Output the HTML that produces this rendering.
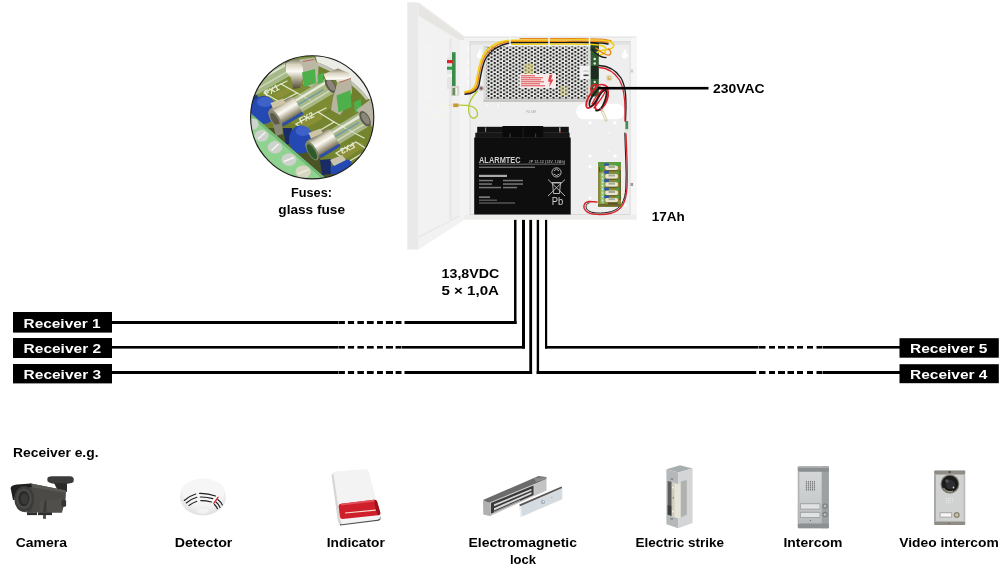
<!DOCTYPE html>
<html><head><meta charset="utf-8"><title>Power supply diagram</title>
<style>
html,body{margin:0;padding:0;background:#fff;}
body{width:1000px;height:572px;overflow:hidden;font-family:"Liberation Sans",sans-serif;}
svg{display:block;will-change:transform;}

text{font-family:"Liberation Sans",sans-serif;font-weight:bold;}
</style></head><body>
<svg width="1000" height="572" viewBox="0 0 1000 572">
<defs>
<pattern id="mesh" x="486.95" y="47.28" width="6.2" height="3.67" patternUnits="userSpaceOnUse">
  <rect width="6.2" height="3.67" fill="#e9e9e7"/>
  <circle cx="1.55" cy="0.92" r="1.12" fill="#161616"/>
  <circle cx="4.65" cy="2.755" r="1.12" fill="#161616"/>
</pattern>
<clipPath id="fclip"><circle cx="312.200" cy="117.300" r="61.600"/></clipPath>
<linearGradient id="metal" x1="0" y1="0" x2="0" y2="1">
  <stop offset="0" stop-color="#7d7864"/><stop offset=".2" stop-color="#d9d4c0"/><stop offset=".42" stop-color="#fbfaf4"/><stop offset=".62" stop-color="#c2bca6"/><stop offset=".85" stop-color="#7a745e"/><stop offset="1" stop-color="#4f4a38"/>
</linearGradient>
<linearGradient id="glass" x1="0" y1="0" x2="0" y2="1">
  <stop offset="0" stop-color="#7f8c70"/><stop offset=".3" stop-color="#cfd8c8"/><stop offset=".6" stop-color="#aebba2"/><stop offset="1" stop-color="#6f7d58"/>
</linearGradient>
<radialGradient id="detg" cx=".5" cy=".35" r=".65">
  <stop offset="0" stop-color="#fbfbfb"/><stop offset=".7" stop-color="#f1f1f1"/><stop offset="1" stop-color="#dedede"/>
</radialGradient>
<linearGradient id="icg" x1="0" y1="0" x2="0" y2="1"><stop offset="0" stop-color="#d6d8d9"/><stop offset=".55" stop-color="#c9cccd"/><stop offset="1" stop-color="#b4b7b9"/></linearGradient>
<!--DEFS-->
</defs>
<rect width="1000" height="572" fill="#fff"/>

<!-- ============ WIRES ============ -->
<g id="wires" fill="#000">
  <!-- vertical drops -->
  <rect x="514" y="219.5" width="2.5" height="104.5"/>
  <rect x="522" y="219.5" width="3" height="129"/>
  <rect x="529.3" y="219.5" width="2.8" height="154.5"/>
  <rect x="536.7" y="219.5" width="2.4" height="154.5"/>
  <rect x="545" y="219.5" width="2.2" height="129"/>
  <!-- left horizontals -->
  <rect x="112" y="321" width="226.5" height="3"/>
  <rect x="404.5" y="321" width="112" height="3"/>
  <rect x="112" y="346" width="226.5" height="2.6"/>
  <rect x="402" y="346" width="123" height="2.6"/>
  <rect x="112" y="371" width="226.5" height="3"/>
  <rect x="404.5" y="371" width="127.6" height="3"/>
  <!-- right horizontals -->
  <rect x="545" y="346" width="213.5" height="2.6"/>
  <rect x="823" y="346" width="77" height="2.6"/>
  <rect x="536.7" y="371" width="219.5" height="3"/>
  <rect x="823" y="371" width="77" height="3"/>
</g>
<!-- dashes -->
<g id="dashes" fill="#000">
<rect x="338.8" y="321" width="6.1" height="3"/>
<rect x="347.9" y="321" width="6.2" height="3"/>
<rect x="357.4" y="321" width="6.5" height="3"/>
<rect x="366.9" y="321" width="6.8" height="3"/>
<rect x="377" y="321" width="5.9" height="3"/>
<rect x="385.9" y="321" width="7.1" height="3"/>
<rect x="395.6" y="321" width="5.9" height="3"/>
<rect x="338.8" y="346" width="6.1" height="2.6"/>
<rect x="347.9" y="346" width="6.2" height="2.6"/>
<rect x="357.4" y="346" width="6.5" height="2.6"/>
<rect x="366.9" y="346" width="6.8" height="2.6"/>
<rect x="377" y="346" width="5.9" height="2.6"/>
<rect x="385.9" y="346" width="7.1" height="2.6"/>
<rect x="395.6" y="346" width="5.9" height="2.6"/>
<rect x="338.8" y="371" width="6.1" height="3"/>
<rect x="347.9" y="371" width="6.2" height="3"/>
<rect x="357.4" y="371" width="6.5" height="3"/>
<rect x="366.9" y="371" width="6.8" height="3"/>
<rect x="377" y="371" width="5.9" height="3"/>
<rect x="385.9" y="371" width="7.1" height="3"/>
<rect x="395.6" y="371" width="5.9" height="3"/>
<rect x="759" y="346" width="6.5" height="2.6"/>
<rect x="769" y="346" width="6.0" height="2.6"/>
<rect x="778" y="346" width="7.0" height="2.6"/>
<rect x="787.5" y="346" width="6.5" height="2.6"/>
<rect x="797" y="346" width="6.0" height="2.6"/>
<rect x="807" y="346" width="6.0" height="2.6"/>
<rect x="816.5" y="346" width="6.0" height="2.6"/>
<rect x="759" y="371" width="6.5" height="3"/>
<rect x="769" y="371" width="6.0" height="3"/>
<rect x="778" y="371" width="7.0" height="3"/>
<rect x="787.5" y="371" width="6.5" height="3"/>
<rect x="797" y="371" width="6.0" height="3"/>
<rect x="807" y="371" width="6.0" height="3"/>
<rect x="816.5" y="371" width="6.0" height="3"/>
</g>

<!-- ============ LABEL BOXES ============ -->
<g id="labels">
  <rect x="13" y="312" width="99" height="20.6" fill="#000"/>
  <rect x="13" y="338" width="99" height="20" fill="#000"/>
  <rect x="13" y="364" width="99" height="19.4" fill="#000"/>
  <rect x="899.5" y="338.2" width="99.3" height="19.5" fill="#000"/>
  <rect x="899.5" y="364.2" width="99.3" height="19" fill="#000"/>
  <g fill="#fff" font-size="13">
    <text x="23.6" y="327.6" textLength="77" lengthAdjust="spacingAndGlyphs">Receiver 1</text>
    <text x="23.6" y="353.4" textLength="77.5" lengthAdjust="spacingAndGlyphs">Receiver 2</text>
    <text x="23.6" y="378.9" textLength="77.5" lengthAdjust="spacingAndGlyphs">Receiver 3</text>
    <text x="910" y="353.4" textLength="77.5" lengthAdjust="spacingAndGlyphs">Receiver 5</text>
    <text x="910" y="378.6" textLength="77.5" lengthAdjust="spacingAndGlyphs">Receiver 4</text>
  </g>
</g>

<!-- ============ TEXT ============ -->
<g id="texts" fill="#000" font-size="13">
  <text x="713" y="93.3" textLength="51.5" lengthAdjust="spacingAndGlyphs">230VAC</text>
  <text x="651.7" y="221" textLength="33" lengthAdjust="spacingAndGlyphs">17Ah</text>
  <text x="441.6" y="278.2" textLength="57.6" lengthAdjust="spacingAndGlyphs">13,8VDC</text>
  <text x="441.4" y="294.6" textLength="57.6" lengthAdjust="spacingAndGlyphs">5 × 1,0A</text>
  <text x="291" y="196.8" font-size="12.4" textLength="41" lengthAdjust="spacingAndGlyphs">Fuses:</text>
  <text x="278.3" y="213.8" font-size="12.4" textLength="66.7" lengthAdjust="spacingAndGlyphs">glass fuse</text>
  <text x="13" y="456.8" font-size="12.2" textLength="85.5" lengthAdjust="spacingAndGlyphs" style="font-weight:bold">Receiver e.g.</text>
  <g font-size="12.6">
  <text x="15.7" y="546.6" textLength="51.3" lengthAdjust="spacingAndGlyphs">Camera</text>
  <text x="174.7" y="546.7" textLength="57.7" lengthAdjust="spacingAndGlyphs">Detector</text>
  <text x="326.8" y="546.7" textLength="58" lengthAdjust="spacingAndGlyphs">Indicator</text>
  <text x="468.5" y="547" textLength="108.5" lengthAdjust="spacingAndGlyphs">Electromagnetic</text>
  <text x="510" y="564" textLength="26.1" lengthAdjust="spacingAndGlyphs">lock</text>
  <text x="635.6" y="547" textLength="88.4" lengthAdjust="spacingAndGlyphs">Electric strike</text>
  <text x="783.5" y="546.6" textLength="58.8" lengthAdjust="spacingAndGlyphs">Intercom</text>
  <text x="899.2" y="546.6" textLength="99.6" lengthAdjust="spacingAndGlyphs">Video intercom</text>
  </g>
</g>

<!-- ============ CABINET ============ -->
<g id="cabinet">
  <!-- door -->
  <polygon points="407.3,2.3 418.5,2.5 418.5,249.5 407.3,249.5" fill="#e9e9e9"/>
  <polygon points="418.5,2.5 464.5,36.5 464.5,219.5 418.5,249.5" fill="#f0f0f0"/>
  <!-- door top rim -->
  <polygon points="418.5,2.5 464.5,36.5 464.5,43 418.5,15.5" fill="#e6e5e2"/>
  <polygon points="418.5,2.5 464.5,36.5 464.5,38 418.5,4.5" fill="#ecebe8"/>
  <!-- door bottom rim -->
  <polygon points="418.5,249.5 464.5,219.5 464.5,214 418.5,238" fill="#f2f2f2"/>
  <polygon points="418.5,238 464.5,214 464.5,212.5 418.5,236" fill="#e7e7e7"/>
  <!-- door inner panel -->
  <polygon points="418.5,15.5 449,36 449,221 418.5,236" fill="#f2f2f2"/>
  <rect x="419.5" y="44" width="12.5" height="57" fill="#f3f3f3"/>
  <rect x="449" y="38" width="3" height="181" fill="#e9e9e9"/>
  <rect x="460" y="40" width="4.5" height="178" fill="#f4f4f4"/>
  <!-- led board on door -->
  <rect x="447" y="57" width="5.200" height="32" fill="#e4e4e2"/>
  <rect x="452" y="52.200" width="3.600" height="43.500" fill="#3c8a4a"/>
  <rect x="447" y="60" width="5.800" height="3.200" fill="#d8242c"/>
  <rect x="447" y="66.700" width="5.800" height="3" fill="#2f9a4a"/>
  <rect x="447" y="74" width="5" height="3" fill="#f2f2f0"/>
  <rect x="451" y="86" width="8.200" height="9.700" fill="#d4d4cc"/>
  <rect x="452.500" y="88" width="2.500" height="7" fill="#6b8a5a"/>
  <rect x="456" y="88" width="1.200" height="7" fill="#f4f4f0"/>
  <!-- cabinet body -->
  <rect x="464.5" y="36.6" width="172" height="182.9" fill="#f3f3f3"/>
  <rect x="470" y="42" width="160" height="172.5" fill="#eeeeee"/>
  <rect x="464.5" y="36.6" width="172" height="1" fill="#e2e2e2"/>
  <rect x="470" y="42" width="160" height="3" fill="#e4e3df"/><rect x="469.5" y="41" width="161" height="1.2" fill="#dcdcdc"/>
  <rect x="469.5" y="41" width="1.2" height="174" fill="#dedede"/>
  <rect x="629.6" y="41" width="1.2" height="174" fill="#dddddd"/>
  <rect x="630.8" y="37.6" width="5.8" height="181.9" fill="#f6f6f6"/>
  <rect x="464.5" y="214.5" width="172" height="5" fill="#ededeb"/>
  <rect x="470" y="214" width="160" height="1" fill="#d9d9d9"/>
  <!-- slots on left wall -->
  <g fill="#fafafa">
    <rect x="467" y="47" width="1.6" height="6"/><rect x="467" y="58" width="1.6" height="6"/><rect x="467" y="69" width="1.6" height="6"/><rect x="467" y="80" width="1.6" height="6"/>
  </g>
  <!-- keyholes -->
  <g fill="#ffffff">
    <circle cx="480" cy="55.5" r="3"/><rect x="478.8" y="49.5" width="2.4" height="6" rx="1.2"/>
    <circle cx="624.8" cy="55.5" r="3"/><rect x="623.6" y="49.5" width="2.4" height="6" rx="1.2"/>
    <rect x="576" y="103.8" width="48.5" height="15.4" rx="7.7"/>
    <circle cx="590" cy="122.8" r="1.7"/><circle cx="615" cy="122.8" r="1.7"/>
    <circle cx="590" cy="156" r="1.7"/><circle cx="615" cy="156" r="1.7"/>
    <circle cx="590" cy="166.7" r="1.7"/><circle cx="590" cy="198" r="1.5"/><circle cx="625.5" cy="205" r="1.5"/>
    <circle cx="609" cy="133" r="0.8"/><circle cx="609" cy="151" r="0.8"/>
    <circle cx="487" cy="105.5" r="0.9"/><circle cx="498" cy="105.5" r="0.9"/>
  </g>
  <rect x="630.5" y="69.5" width="2.6" height="3" fill="#cfcfcf"/>
  <rect x="630.5" y="183" width="2.6" height="3" fill="#9a9a9a"/>
  <text x="526" y="113" font-size="2.6" fill="#aaa" style="font-weight:normal">PULSAR</text>
  <!-- PSU -->
  <rect x="483.5" y="44.5" width="107" height="57.5" fill="#d9d9d7"/>
  <rect x="483.5" y="44.5" width="107" height="1.2" fill="#f4f4f4"/>
  <rect x="483.5" y="99.5" width="107" height="2.5" fill="#c6c6c4"/>
  <rect x="486" y="46.5" width="101.5" height="52.5" fill="url(#mesh)"/>
  <rect x="524.5" y="63.5" width="9" height="11" fill="#d8cf6a" opacity=".55"/>
  <rect x="560" y="86" width="8" height="10" fill="#d8cf6a" opacity=".35"/>
  <!-- PSU sticker -->
  <rect x="519.5" y="74" width="36.5" height="14" fill="#f6ecec"/>
  <g fill="#e0494f">
    <rect x="521" y="75.3" width="14" height="1"/><rect x="521" y="77.3" width="22" height="1"/><rect x="521" y="79.3" width="20" height="1"/>
    <rect x="521" y="81.3" width="23" height="1"/><rect x="521" y="83.3" width="19" height="1"/><rect x="521" y="85.3" width="24" height="1"/>
    <polygon points="549.5,74.8 552.5,74.8 551,79.5 553.5,79.5 549,87.2 550,81.8 548,81.8"/>
  </g>
  <!-- white connector on PSU -->
  <rect x="580" y="65.8" width="9.6" height="13.2" fill="#f1f1f1"/>
  <rect x="583.5" y="74.5" width="5" height="1.6" fill="#444"/>
  <rect x="583.5" y="70.5" width="5" height="1" fill="#bbb"/>
  <!-- green terminal PCB -->
  <rect x="590.6" y="43" width="8.2" height="53.5" fill="#2f5b33"/>
  <rect x="590.6" y="43" width="8.2" height="8" fill="#243f26"/>
  <g fill="#d9e6d5"><circle cx="594.7" cy="59" r="1.3"/><circle cx="594.7" cy="63.5" r="1.3"/><circle cx="594.7" cy="82" r="1.2"/><circle cx="594.7" cy="87.5" r="1.2"/></g>
  <rect x="591" y="66" width="7.5" height="13" fill="#1f2a20"/>
  <circle cx="481.200" cy="88.300" r="2.600" fill="#b9b9b5"/><circle cx="481.200" cy="88.300" r="1.300" fill="#8a5a50"/>
  <!-- ground screw -->
  <circle cx="609.3" cy="78" r="3.4" fill="#e4e0c6"/><circle cx="609.3" cy="78" r="2" fill="#caa85a"/><circle cx="609.7" cy="77.6" r="1" fill="#f1e9c8"/>
  <!-- top wire bundle -->
  <g fill="none" stroke-linecap="round" stroke-linejoin="round">
    <path d="M465,91.6 C471,91.4 474.5,89 476,83 C477.5,75 478.5,67 481.5,59 C485.5,49 495,41.8 509,40.4 L560,40 C580,39.6 596,39.2 606,40.6 C613,41.6 616,45.6 612,48.1 C607,50.6 600,49.6 597,52.6" stroke="#f0d21a" stroke-width="1.6"/>
    <path d="M465,92.9 C472,92.7 476,90.3 477.5,84 C479,76 480,68 483,60 C487,50.5 496.5,43.2 510,41.6 L566,41.4 C585,41.2 600,40.6 608,42.6" stroke="#e8871e" stroke-width="1.5"/>
    <path d="M465,94.2 C473,94 477.5,91.6 479,85 C480.5,77 481.5,69 484.5,61 C488.5,52 498,44.6 511,42.8 L566,42.6 C585,42.4 600,42 608,44" stroke="#1c1c1c" stroke-width="1.4"/>
    <path d="M512,44.2 L572,44 C586,44 597,44 603,46 C608,48 606,54 600,55" stroke="#f0d21a" stroke-width="1.6"/>
    <path d="M520,38.6 L566,38.6 C590,38.2 604,38.2 611,40.6" stroke="#e8871e" stroke-width="1.2"/>
    <path d="M596,48 C601,52 606,56 609,55 C612,54 611,50 608,49" stroke="#e8871e" stroke-width="1.4"/>
    <path d="M592,49 C596,55 602,58 606,57.500" stroke="#1c1c1c" stroke-width="1.3"/>
    <!-- cable ties -->
    <path d="M510,38 L510,46 M549,38 L549,46 M589.500,37.500 L589.500,46" stroke="#f7f7f7" stroke-width="1.5"/>
    <!-- ground wire green/yellow -->
    <path d="M477.5,91 C474,95 471,99 469.5,103 C467.5,109 468.5,116 472.5,118 C476.5,119 478.5,115 477,111 C475.5,107.5 471,105.8 467,105.4 L458.5,105.2" stroke="#b2c834" stroke-width="1.3"/>
    <path d="M453,105.300 L458.400,105.300" stroke="#c9973a" stroke-width="3.6" stroke-linecap="butt"/>
    <path d="M444.500,105 L449,105" stroke="#f7f5ea" stroke-width="3.4" stroke-linecap="butt"/>
    <path d="M449,105.200 L453,105.200" stroke="#e9e2c4" stroke-width="1.2"/>
    <ellipse cx="436.200" cy="111.300" rx="8.200" ry="6" stroke="#f6f4e8" stroke-width="1.100"/>
    <!-- right red/black wires -->
    <path d="M599,65.500 C608,66 616,70 621,78 C626,87 626,98 626,108 L625.500,121" stroke="#1c1c1c" stroke-width="1.300"/>
    <path d="M599,67.500 C607,68 614.500,72 619.500,80 C624.500,89 625,100 625,110 L625,121" stroke="#d8222a" stroke-width="1.300"/>
    <path d="M626,133 C626.500,150 628,170 627,188 C626,202 622,210 612,213 C602,215.500 590,215 586,211 C582,207 584,202 589,201.500 L597,202" stroke="#d8222a" stroke-width="1.300"/>
    <path d="M624.800,133 C625,150 626.800,170 625.800,188 C625,201 621,208.500 611.500,211.500 C602,214 591,213.500 587.500,210 C585,207 586,203.500 589,203" stroke="#1c1c1c" stroke-width="1"/>
    <!-- coil -->
    <path d="M597,86 C591,92 585,101 586.5,106.5 C588,110 592.5,107 596,101 C600,94 602,88 605,88 C608.5,88 609,94 607,100 C605,106 600,111 597,110 C593.5,108.500 596,101 599.500,95 C602.500,89.500 606,88.500 607,92 C608,97 604,105 601,110" stroke="#d8222a" stroke-width="1.9"/>
    <path d="M600,87 C594,93 588.500,101 589.500,105.500 C590.500,108.500 594.500,104 597.500,99 C600.500,93 603,89.500 605.500,90.500 C607.500,92 606,99 603,105 C601,109 598,111.500 596,110.500" stroke="#1c1c1c" stroke-width="1.6"/>
    <path d="M592,104 C595,98 599,92 603,90 M594,108 C598,103 603,97 605,92" stroke="#d8222a" stroke-width="1.300"/>
    <path d="M596,84.500 C592,84 589.500,88 591.500,91.500 M597,86 C600,83.500 606.500,84.500 608.500,88.500" stroke="#d8222a" stroke-width="1.500"/>
    <path d="M600.500,108 L603.500,113" stroke="#999" stroke-width="1"/>
    <path d="M602.300,111 L606,120" stroke="#d9cfb4" stroke-width="3.200"/>
    <path d="M602.800,112.500 L605.500,119" stroke="#f4efe0" stroke-width="1.600"/>
  </g>
  <rect x="625.400" y="121" width="2.800" height="9" fill="#4a8a58"/>
  <rect x="625.400" y="129" width="2.800" height="4.500" fill="#e4e2da"/>
  <!-- battery -->
  <rect x="477.2" y="126.8" width="91.6" height="7" fill="#121212"/>
  <rect x="475.3" y="132.7" width="94.3" height="6" fill="#171717"/>
  <rect x="474.2" y="137.6" width="96.5" height="76.9" fill="#0e0e0e"/>
  <rect x="502.5" y="126" width="40.7" height="12.5" fill="#0a0a0a"/>
  <rect x="477.2" y="132.2" width="25" height="0.9" fill="#2c2c2c"/><rect x="543.5" y="132.2" width="25" height="0.9" fill="#2c2c2c"/>
  <rect x="475.3" y="137.3" width="94.3" height="0.8" fill="#222"/>
  <rect x="485" y="127.5" width="1.1" height="4.3" fill="#8a8a8a"/><rect x="559.3" y="127.3" width="1.1" height="4" fill="#ccc"/><rect x="559" y="131.3" width="1.8" height="1.2" fill="#d05040"/>
  <rect x="522.6" y="127" width="0.8" height="11" fill="#262626"/>
  <rect x="509.5" y="133.5" width="1.2" height="4" fill="#3a3a3a"/><rect x="535" y="133.5" width="1.2" height="4" fill="#3a3a3a"/>
  <g fill="#cfcfcf">
    <text x="479" y="162.800" font-size="8.200" textLength="41.700" lengthAdjust="spacingAndGlyphs">ALARMTEC</text>
    <text x="528.600" y="162.600" font-size="3.600" textLength="36.500" lengthAdjust="spacingAndGlyphs" fill="#9a9a9a">JP 12-12  (12V, 12Ah)</text>
    <rect x="479" y="163.800" width="86" height="0.600" fill="#aaa"/>
    <rect x="479" y="166.600" width="56" height="1.300" fill="#777"/>
    <rect x="479" y="174.800" width="28" height="2.200" fill="#aaa"/>
    <rect x="479" y="179.800" width="14" height="1.500" fill="#777"/><rect x="503" y="179.800" width="20" height="1.500" fill="#777"/>
    <rect x="479" y="183.300" width="13" height="1.500" fill="#777"/><rect x="503" y="183.300" width="20" height="1.500" fill="#777"/>
    <rect x="479" y="186.800" width="22" height="1.500" fill="#777"/><rect x="503" y="186.800" width="14" height="1.500" fill="#777"/>
    <rect x="479" y="196.400" width="11" height="1.500" fill="#888"/>
    <rect x="479" y="199.600" width="18" height="1.200" fill="#666"/>
    <rect x="479" y="202.400" width="36" height="1.200" fill="#666"/>
    <text x="551.800" y="204.800" font-size="11" textLength="11.500" lengthAdjust="spacingAndGlyphs" style="font-weight:normal">Pb</text>
  </g>
  <!-- recycle + bin icons -->
  <g fill="none" stroke="#c4c4c4">
    <circle cx="556.500" cy="172.400" r="4.600" stroke-width="0.900"/>
    <path d="M554,171 L556.500,169 L559,171 M553.500,174 L556.500,175.500 L559.500,174" stroke-width="0.900"/>
    <path d="M548,179.500 L565,196 M565,179.500 L548,196" stroke-width="0.900"/>
    <path d="M552.500,183 L553.500,193.500 L559.500,193.500 L560.500,183 Z M551.500,182.500 L561.500,182.500" stroke-width="0.900"/>
  </g>
  <!-- fuse board -->
  <rect x="598" y="162" width="23" height="44.700" fill="#8a883c"/>
  <rect x="598" y="162" width="23" height="4" fill="#5f9a40"/>
  <rect x="598" y="204" width="23" height="2.700" fill="#6e6a2c"/>
  <g fill="#5a5522"><rect x="599" y="167" width="1.500" height="5"/><rect x="619.500" y="170" width="1.200" height="30"/><rect x="604.500" y="170.300" width="14" height="1"/><rect x="604.500" y="178.800" width="14" height="1"/><rect x="604.500" y="187.200" width="14" height="1"/><rect x="604.500" y="195.400" width="14" height="1"/><rect x="608" y="202.500" width="10" height="2"/></g>
  <rect x="600.600" y="172.500" width="3.800" height="31" fill="#8ecb7c"/>
  <g fill="#eef6ea"><circle cx="602.500" cy="175" r="0.700"/><circle cx="602.500" cy="178.600" r="0.700"/><circle cx="602.500" cy="182.200" r="0.700"/><circle cx="602.500" cy="185.800" r="0.700"/><circle cx="602.500" cy="189.400" r="0.700"/><circle cx="602.500" cy="193" r="0.700"/><circle cx="602.500" cy="196.600" r="0.700"/><circle cx="602.500" cy="200.200" r="0.700"/></g>
  <g>
    <rect x="605.300" y="165.600" width="12.600" height="4.300" rx="1.600" fill="#e9e5d2"/>
    <rect x="605.300" y="174.100" width="12.600" height="4.300" rx="1.600" fill="#e9e5d2"/>
    <rect x="605.300" y="182.200" width="12.600" height="4.300" rx="1.600" fill="#e9e5d2"/>
    <rect x="605.300" y="190.600" width="12.600" height="4.300" rx="1.600" fill="#e9e5d2"/>
    <rect x="605.300" y="198" width="12.600" height="4" rx="1.600" fill="#e9e5d2"/>
    <g fill="#a3ab94"><rect x="608.500" y="166" width="6.500" height="2"/><rect x="608.500" y="174.500" width="6.500" height="2"/><rect x="608.500" y="182.600" width="6.500" height="2"/><rect x="608.500" y="191" width="6.500" height="2"/><rect x="608.500" y="198.300" width="6.500" height="1.800"/></g>
    <g fill="#2a55b5"><rect x="604.200" y="163.300" width="4.600" height="2.400"/><rect x="604.200" y="171" width="4.600" height="2.600"/><rect x="604.200" y="179.300" width="4.600" height="2.600"/><rect x="604.200" y="187.700" width="4.600" height="2.600"/><rect x="604.200" y="195.600" width="4.600" height="2.400"/></g>
    <g fill="#3fa63f"><rect x="616" y="163.200" width="3" height="2.400"/><rect x="616.300" y="171.300" width="2.800" height="2.400"/><rect x="616.300" y="179.500" width="2.800" height="2.400"/><rect x="616.300" y="187.800" width="2.800" height="2.400"/><rect x="616.300" y="195.600" width="2.800" height="2.200"/><rect x="600" y="167" width="3" height="3.500"/></g>
  </g>
<rect x="598" y="86.9" width="110.5" height="2.6" fill="#000"/>
<!--CABINET_END-->
</g>

<!-- ============ FUSE CIRCLE ============ -->
<g id="fusecircle">
  <g clip-path="url(#fclip)">
    <rect x="248" y="54" width="130" height="128" fill="#6f7f2c"/>
    <!-- pcb patches -->
    <polygon points="250,100 300,72 350,96 300,128" fill="#7d8c33"/>
    <polygon points="300,128 350,100 376,118 376,150 340,172" fill="#74842f"/>
    <polygon points="250,60 318,56 300,72 258,96" fill="#7a9440"/>
    <polygon points="262,128 290,128 338,178 300,182 262,150" fill="#4a5424"/>
    <!-- pads -->
    <path d="M274,94 L288,88 Q292,88 291,92 L279,98 Q274,98 274,94Z" fill="#8b9036"/>
    <path d="M298,124 L318,114 Q324,114 322,119 L304,129 Q298,129 298,124Z" fill="#8b9036"/>
    <path d="M338,152 L358,142 Q366,142 363,148 L345,159 Q337,159 338,152Z" fill="#8b9036"/>
    <!-- white enclosure band top right -->
    <path d="M314,50 L380,50 L380,104 L368.600,99 Q352,76 317,62 Z" fill="#ecece6"/>
    <path d="M317,62 Q352,76 368.600,99 L366,100 Q350,79 316,65 Z" fill="#c2c2b6"/>
    <!-- silk screen -->
    <g fill="none" stroke="#dfe6c8" stroke-width="1.300" stroke-linecap="round">
      <path d="M264,93 L281,84 L297,93 L280,102 Z"/>
      <path d="M281,84 L287,81 M297,93 L310,100"/>
      <path d="M296,124 L318,112 L334,122 L312,135 Z"/>
      <path d="M318,112 L326,108 M334,122 L345,128"/>
      <path d="M336,153 L356,142 L368,150 L348,162 Z"/>
      <path d="M345,128 L364,138"/>
    </g>
    <g fill="#e8edd6" font-size="8.500">
      <text transform="translate(266,96.500) rotate(-27)">FX1</text>
      <text transform="translate(301,124) rotate(-28)">FX2</text>
      <text transform="translate(353,142) rotate(152)">FX3</text>
    </g>
    <!-- blue varistors (behind caps) -->
    <ellipse cx="254" cy="104" rx="6" ry="10" fill="#1d3a8a"/>
    <ellipse cx="263.500" cy="110" rx="12.500" ry="14" fill="#2549b2"/>
    <ellipse cx="265" cy="102" rx="8" ry="5" fill="#5577dd" opacity=".55"/>
    <path d="M283,128 L292,128 L293,142 L286,145 Z" fill="#1a2c66"/>
    <ellipse cx="301" cy="139.500" rx="12" ry="14" fill="#2549b2"/>
    <ellipse cx="303" cy="131" rx="7.500" ry="5" fill="#5577dd" opacity=".55"/>
    <path d="M320,160 L331,159 L331,174 L322,175 Z" fill="#1a2c66"/>
    <ellipse cx="341" cy="167" rx="11.500" ry="6.500" transform="rotate(-25 341 167)" fill="#2549b2"/>
    <!-- fuse 1 (top) -->
    <g transform="translate(276,75) rotate(-30)">
      <rect x="-30" y="-7.500" width="48" height="15" rx="4" fill="#c4d0b4" opacity=".62"/>
      <rect x="-28" y="-5" width="44" height="2" fill="#f2f5ee" opacity=".7"/>
      <rect x="-28" y="2" width="44" height="1.500" fill="#e4ead8" opacity=".6"/>
      <ellipse cx="16" cy="0" rx="3.500" ry="7" fill="#6a6658"/>
    </g>
    <!-- clip 1 -->
    <path d="M286,63 L296,58.500 L303,62 L304,75 L300,88 L293,89 L291,78 L286,72 Z" fill="url(#metal)"/>
    <path d="M299,59.500 L314,57.500 L318.500,66 L318,82 L311,87 L303,84 L303,68 Z" fill="#bdb8a6"/>
    <path d="M302,72.500 L315,69 L316,83 L304,87 Z" fill="#4eb04a"/>
    <path d="M303,61.500 L314,59.500" stroke="#b46a5a" stroke-width="1"/>
    <!-- fuse 2 (middle) -->
    <g transform="translate(286,112) rotate(-31)">
      <rect x="10" y="-8.500" width="44" height="17" rx="4" fill="#c2ceb2" opacity=".66"/>
      <rect x="14" y="-6" width="38" height="2.400" fill="#f4f7f0" opacity=".8"/>
      <rect x="14" y="-0.800" width="30" height="1.500" fill="#6a98a8" opacity=".85"/>
      <rect x="14" y="3.500" width="38" height="1.600" fill="#e8ecde" opacity=".6"/>
      <ellipse cx="52" cy="0" rx="4.500" ry="8.500" fill="#5e5a4e"/>
      <ellipse cx="52.500" cy="0" rx="3" ry="6.500" fill="#8a867a"/>
      <rect x="-16" y="-11" width="30" height="22" rx="5" fill="url(#metal)"/>
      <ellipse cx="-13" cy="0.500" rx="4.500" ry="10.500" fill="#8e8975"/>
      <ellipse cx="-13.500" cy="1" rx="3" ry="8" fill="#5c5a48"/>
      <path d="M-10,8 L14,8 L14,11 L-8,11 Z" fill="#2c4fa8"/>
    </g>
    <!-- clip 2 -->
    <path d="M323.500,74 L338,68.500 L349,73 L352,85 L348,92 L340,90 L336,80 L326,80 Z" fill="url(#metal)"/>
    <path d="M337,84 L351,79 L352,92 L348,104 L340,115 L331,110 L333,98 Z" fill="#b9b4a2"/>
    <path d="M336.500,95.500 L350.500,90 L351.500,107 L338.500,112.500 Z" fill="#4eb04a"/>
    <path d="M339,82.500 L351,78.500" stroke="#b46a5a" stroke-width="1.100"/>
    <polygon points="317.500,75 323.500,72.500 323,82 318,84" fill="#4eb04a"/>
    <polygon points="354,102 361,99 361,110 355,113" fill="#4eb04a"/>
    <!-- fuse 3 (bottom) -->
    <g transform="translate(323,144) rotate(-31)">
      <rect x="10" y="-8.500" width="42" height="17" rx="4" fill="#c2ceb2" opacity=".66"/>
      <rect x="14" y="-6" width="36" height="2.400" fill="#f4f7f0" opacity=".8"/>
      <rect x="14" y="-0.800" width="28" height="1.500" fill="#6a98a8" opacity=".85"/>
      <rect x="14" y="3.500" width="36" height="1.600" fill="#e8ecde" opacity=".6"/>
      <path d="M46,-12 L66,-14 L68,12 L52,14 Z" fill="#b9b4a2"/>
      <ellipse cx="49" cy="0" rx="4.500" ry="8.500" fill="#5e5a4e"/>
      <ellipse cx="49.500" cy="0" rx="3" ry="6.500" fill="#8a867a"/>
      <rect x="-16" y="-11" width="30" height="22" rx="5" fill="url(#metal)"/>
      <ellipse cx="-13" cy="0.500" rx="4.500" ry="10.500" fill="#7c8468"/>
      <ellipse cx="-13.500" cy="1" rx="3.200" ry="8.500" fill="#2f5a2a"/>
      <path d="M-10,8 L14,8 L14,11 L-8,11 Z" fill="#2c4fa8"/>
    </g>
    <path d="M330,160 L342,155 L346,160 L334,166 Z" fill="#c9c3ae"/>
    <path d="M270.5,103 L283,98.400 L285.500,103 L273,108.500 Z" fill="#cdc5a6"/>
    <path d="M308.500,133 L320.500,128.500 L322.500,133 L311,138.500 Z" fill="#cdc5a6"/>
    <path d="M273,125 L282,123.500 L283,134 L276,136 Z" fill="#8a8a76"/>
    <!-- terminal block -->
    <polygon points="246,109.4 334,185.6 246,185.6" fill="#90d290"/>
    <polygon points="246,109.4 334,185.6 330,185.6 246,112.6" fill="#74ba78"/>
    <g>
      <ellipse cx="253.500" cy="124" rx="5" ry="5.500" fill="#cfd4cc"/>
      <ellipse cx="261.600" cy="135.700" rx="7" ry="6" fill="#cdd2ca"/><path d="M258,139 L265,132.500" stroke="#f4f6f2" stroke-width="1.600"/>
      <ellipse cx="275" cy="147.300" rx="7.300" ry="6.200" fill="#cdd2ca"/><path d="M271.500,150.500 L278.500,144" stroke="#f4f6f2" stroke-width="1.600"/>
      <ellipse cx="289" cy="159.600" rx="7.600" ry="6.300" fill="#cdd2ca"/><path d="M284,161.500 L294,157.500" stroke="#f4f6f2" stroke-width="1.600"/>
      <ellipse cx="303.200" cy="171.800" rx="7.800" ry="6.300" fill="#d6d6c2"/><path d="M298,174 L308.500,169.500" stroke="#f0ecd0" stroke-width="1.600"/>
    </g>
  </g>
  <circle cx="312.200" cy="117.300" r="61.600" fill="none" stroke="#1e1e1e" stroke-width="1.100"/>
<!--FUSE_END-->
</g>

<!-- ============ PRODUCTS ============ -->
<g id="products">
  <!-- CAMERA -->
  <g id="camera">
    <path d="M47.300,479 Q47.300,476.200 52,476.200 L70,476.200 Q73.800,476.400 73.800,479.500 L73.500,482 Q70,484.200 60,484 Q50,484 47.600,481.500 Z" fill="#3b3b39"/>
    <polygon points="54,483 67,483.500 67,492 57,489" fill="#2b2b2a"/>
    <polygon points="31,483.600 66,490.500 65.600,499 62,512.500 28,512.500 22,486" fill="#4b4a46"/>
    <polygon points="31,483.600 66,490.500 65.800,493 30,487" fill="#5a5955"/>
    <polygon points="40,500.500 62.500,499 61.800,512.500 40,512.500" fill="#504f4b"/>
    <rect x="61.500" y="499.800" width="4.600" height="7" rx="1.500" fill="#353533"/>
    <!-- hood -->
    <path d="M10.600,488 Q11,485 17,484.500 L31,483.400 L32,487 L20,489 Q15,492 14.500,500 L13,500 Z" fill="#1f1f1e"/>
    <!-- front barrel -->
    <ellipse cx="24.300" cy="499" rx="10" ry="13" fill="#3c3c3a"/>
    <ellipse cx="24" cy="498.800" rx="7.800" ry="10.300" fill="#4a4a47"/>
    <ellipse cx="23.800" cy="498.600" rx="5.600" ry="7.600" fill="#2a2a29"/>
    <ellipse cx="24.500" cy="499" rx="3.800" ry="5.400" fill="#3a3a38"/>
    <path d="M31,488 Q36,499 31.500,511 L28,512.500 L24,512 Q34,511 34,499 Q34,489 28,486 Z" fill="#43423f"/>
    <!-- bottom feet -->
    <rect x="27" y="512.300" width="10" height="2.800" fill="#2e2e2d"/>
    <rect x="38" y="512.300" width="14" height="2.800" fill="#2e2e2d"/>
    <polygon points="44.500,500.500 46.500,500.500 46.500,512 43,512" fill="#3a3a38"/>
    <rect x="43" y="515" width="3" height="3.800" fill="#55544e"/>
  </g>

  <!-- DETECTOR -->
  <g id="detector">
    <ellipse cx="203" cy="497" rx="23" ry="18.500" fill="url(#detg)"/>
    <ellipse cx="203" cy="491" rx="21.500" ry="12" fill="#f6f6f6"/>
    <ellipse cx="202.700" cy="510.900" rx="7.200" ry="3.600" fill="#e9e9e9"/>
    <ellipse cx="202.700" cy="510.600" rx="6" ry="2.800" fill="#f2f2f2"/>
    <g fill="none" stroke="#1e1e1e" stroke-width="1.100" stroke-linecap="round">
      <path d="M184.300,500.500 Q189,496 195.800,494"/>
      <path d="M186.300,503 Q191,499 196.800,497.300"/>
      <path d="M189,505.500 Q192.500,502.800 196.800,501.200"/>
      <path d="M199.600,493.400 Q208,493.200 215.500,496"/>
      <path d="M200.300,497 Q207,496.800 212.800,498.600"/>
      <path d="M200.800,500.600 Q206,500.600 211.500,502"/>
      <path d="M217.800,499.500 Q221,502 222.300,505"/>
      <path d="M216,502 Q219,504.500 220,507.500"/>
      <path d="M214.500,504.500 Q216.500,506.500 217.500,508.800"/>
    </g>
    <path d="M218,497.300 L213.800,503.300" stroke="#d0242c" stroke-width="1.300" stroke-linecap="round"/>
  </g>

  <!-- INDICATOR -->
  <g id="indicator">
    <path d="M340,525.400 L378.500,520.800 Q381,520 380.500,517.500 L380,515 L339,520 Z" fill="#4a4a4a"/>
    <path d="M335,471.500 L365.500,469 Q368,469 368.800,471.500 L380.300,515 Q381,519 377.500,519.800 L342,524.200 Q338.500,524.500 338,521 L331.500,475 Q331.300,472 335,471.500 Z" fill="#f3f3f3"/>
    <path d="M331.500,475 L338,521 Q338.500,524.500 342,524.200 L340,519 L333.500,474 Z" fill="#d6d6d6"/>
    <path d="M341,503.800 L374,499.800 Q376.500,499.600 377.200,502 L380.200,512.500 Q380.600,515 378,515.300 L342.500,519 Q340.300,519 340,517 L338.600,506.500 Q338.500,504.200 341,503.800 Z" fill="#cf1f2a"/>
    <path d="M374,499.800 Q376.500,499.600 377.200,502 L380.200,512.500 Q380.600,515 378,515.300 L375.800,510 Z" fill="#9b1019"/>
    <path d="M341,503.800 L374,499.800 L374.800,501.500 L341,505.600 Z" fill="#e2505a"/>
    <path d="M345,512.400 L375.700,509.500 L375.800,510.700 L345.100,513.600 Z" fill="#f4dcd0"/>
  </g>

  <!-- ELECTROMAGNETIC LOCK -->
  <g id="emlock">
    <!-- top face -->
    <polygon points="483,500 538.500,476 546.300,477 546.300,479.500 489,504" fill="#6b6b6b"/>
    <polygon points="534,478 546.300,477 546.300,479 536,482" fill="#8a8a8a"/>
    <!-- front face -->
    <polygon points="483,500.500 487,503.500 546.300,479 546.300,490.500 490.500,516 483.500,514.500" fill="#c9c9c9"/>
    <polygon points="483,500.500 490.500,503 490.500,516 483.500,514.500" fill="#b0b0b0"/>
    <!-- magnet slot -->
    <polygon points="491,503 533.500,485.500 533.500,495 491,513.800" fill="#3a3a3a"/>
    <polygon points="494,504.300 531.500,488.700 531.500,490.500 494,506.200" fill="#d8d8d8"/>
    <polygon points="494,508.300 531.500,492 531.500,494 494,510.500" fill="#d8d8d8"/>
    <polygon points="494,511.500 520,500 520,501 494,512.600" fill="#a0a0a0"/>
    <!-- right block -->
    <polygon points="534.500,484.500 546.300,479.500 546.300,490.500 534.500,495.500" fill="#c3c3c3"/>
    <!-- armature plate -->
    <polygon points="519.300,504.600 561.500,486.400 562.300,488.200 520.300,507" fill="#5c5553"/>
    <polygon points="519.500,506.500 562.300,488 562.300,499.200 520.500,517.300" fill="#d5dce1"/>
    <polygon points="519.500,506.500 521,506 522,516.600 520.500,517.300" fill="#eef2f4"/>
    <circle cx="543" cy="502" r="2.100" fill="#9aa4ac"/><circle cx="543.300" cy="501.800" r="1" fill="#e4eaee"/>
    <circle cx="551.800" cy="497.500" r="0.600" fill="#b48a7a"/>
  </g>

  <!-- ELECTRIC STRIKE -->
  <g id="strike">
    <polygon points="666.400,469.200 680,465.200 692.600,468.500 678.200,472.500" fill="#a9afb1"/>
    <polygon points="666.400,469.200 678.200,472.500 678.200,528.200 666.400,524.200" fill="#b4b8ba"/>
    <polygon points="678.200,472.500 692.600,468.500 692.600,523 678.200,528.200" fill="#d3d5d7"/>
    <polygon points="667.700,481 671.800,482 671.800,516 667.700,514.500" fill="#5c5e5e"/>
    <polygon points="667.700,505 671.800,506 671.800,516 667.700,514.500" fill="#3c3e3e"/>
    <polygon points="671.800,482.300 678,484 680.800,483.300 680.800,517.700 678,518.200 671.800,516.500" fill="#e6e4d8"/>
    <polygon points="671.800,482.300 674.500,483 674.500,517.200 671.800,516.500" fill="#cfcdc0"/>
    <polygon points="680.800,481.500 686.800,480 686.800,514.800 680.800,517.500" fill="#b0b2b0"/>
    <circle cx="673.200" cy="497.800" r="0.600" fill="#333"/>
    <circle cx="673" cy="487.500" r="0.900" fill="#f4f4f0"/><circle cx="673" cy="511.500" r="0.900" fill="#f4f4f0"/>
    <rect x="670.500" y="478.500" width="2.500" height="1.200" fill="#777"/><rect x="670.500" y="518.300" width="2.500" height="1.200" fill="#777"/>
  </g>

  <!-- INTERCOM -->
  <g id="intercom">
    <rect x="797.800" y="466.600" width="31.100" height="61.600" rx="1.200" fill="url(#icg)"/>
    <rect x="821.700" y="466.600" width="7.200" height="61.600" fill="#9da1a3"/>
    <rect x="797.800" y="466.600" width="31.100" height="5.200" rx="1" fill="#8a8e90"/>
    <rect x="797.800" y="466.600" width="31.100" height="1.500" fill="#a8acae"/>
    <rect x="797.800" y="523.600" width="31.100" height="4.600" rx="1" fill="#8c9092"/>
    <rect x="797.800" y="471.800" width="1.600" height="52" fill="#b2b5b6"/>
    <g fill="#4a4c4e">
      <circle cx="806.4" cy="481.8" r="0.62"/><circle cx="806.4" cy="483.8" r="0.62"/><circle cx="806.4" cy="485.8" r="0.62"/><circle cx="806.4" cy="487.8" r="0.62"/><circle cx="806.4" cy="489.8" r="0.62"/><circle cx="808.4" cy="481.8" r="0.62"/><circle cx="808.4" cy="483.8" r="0.62"/><circle cx="808.4" cy="485.8" r="0.62"/><circle cx="808.4" cy="487.8" r="0.62"/><circle cx="808.4" cy="489.8" r="0.62"/><circle cx="810.4" cy="481.8" r="0.62"/><circle cx="810.4" cy="483.8" r="0.62"/><circle cx="810.4" cy="485.8" r="0.62"/><circle cx="810.4" cy="487.8" r="0.62"/><circle cx="810.4" cy="489.8" r="0.62"/><circle cx="812.4" cy="481.8" r="0.62"/><circle cx="812.4" cy="483.8" r="0.62"/><circle cx="812.4" cy="485.8" r="0.62"/><circle cx="812.4" cy="487.8" r="0.62"/><circle cx="812.4" cy="489.8" r="0.62"/><circle cx="814.4" cy="481.8" r="0.62"/><circle cx="814.4" cy="483.8" r="0.62"/><circle cx="814.4" cy="485.8" r="0.62"/><circle cx="814.4" cy="487.8" r="0.62"/><circle cx="814.4" cy="489.8" r="0.62"/>
    </g>
    <rect x="800" y="503.200" width="20.400" height="6.300" rx="0.800" fill="#9a9ea0"/>
    <rect x="800.800" y="504.200" width="18.800" height="4.500" fill="#e0e2e3"/>
    <rect x="800" y="511.800" width="20.400" height="6" rx="0.800" fill="#9a9ea0"/>
    <rect x="800.800" y="512.800" width="18.800" height="4.200" fill="#e0e2e3"/>
    <circle cx="825" cy="506.100" r="2.700" fill="#7a7c7e"/><circle cx="825" cy="506.100" r="1.500" fill="#b9bbbc"/>
    <circle cx="825" cy="514.400" r="2.700" fill="#7a7c7e"/><circle cx="825" cy="514.400" r="1.500" fill="#b9bbbc"/>
    <circle cx="810.300" cy="520.500" r="0.500" fill="#444"/>
  </g>

  <!-- VIDEO INTERCOM -->
  <g id="vintercom">
    <rect x="934.200" y="470.500" width="31" height="54.400" rx="1.200" fill="#d0d1d1"/>
    <rect x="934.200" y="470.500" width="31" height="3.900" rx="1" fill="#8e8c84"/>
    <rect x="934.200" y="521.600" width="31" height="3.300" rx="1" fill="#8e8c84"/>
    <rect x="934.200" y="474.400" width="1.600" height="47.200" fill="#a0a0a0"/>
    <rect x="963.600" y="474.400" width="1.600" height="47.200" fill="#bdbdbd"/>
    <rect x="948.500" y="471.200" width="2.200" height="1.600" fill="#444"/>
    <circle cx="949.900" cy="484" r="9.400" fill="#76746a"/>
    <circle cx="949.900" cy="484" r="8.300" fill="#1b1b1b"/>
    <circle cx="950.500" cy="484.500" r="4.600" fill="#2e2e30"/>
    <circle cx="947" cy="481" r="1.800" fill="#777" opacity=".6"/>
    <path d="M943.500,488 A7.500,7.500 0 0 0 953,491" stroke="#9c9a8c" stroke-width="1.200" fill="none"/>
    <circle cx="953.500" cy="487.500" r="0.900" fill="#cfcdbf"/>
    <g fill="#eeeeee">
      <circle cx="946.70" cy="498.60" r="0.55"/><circle cx="946.70" cy="500.70" r="0.55"/><circle cx="946.70" cy="502.80" r="0.55"/><circle cx="948.65" cy="498.60" r="0.55"/><circle cx="948.65" cy="500.70" r="0.55"/><circle cx="948.65" cy="502.80" r="0.55"/><circle cx="950.60" cy="498.60" r="0.55"/><circle cx="950.60" cy="500.70" r="0.55"/><circle cx="950.60" cy="502.80" r="0.55"/><circle cx="952.55" cy="498.60" r="0.55"/><circle cx="952.55" cy="500.70" r="0.55"/><circle cx="952.55" cy="502.80" r="0.55"/>
    </g>
    <rect x="939.700" y="512.400" width="12.400" height="5" fill="#9a9a96"/>
    <rect x="940.500" y="513.200" width="10.800" height="3.500" fill="#f6f6f6"/>
    <circle cx="956.700" cy="515" r="3" fill="#8a8372"/><circle cx="956.700" cy="515" r="1.700" fill="#c8c2ae"/>
    <circle cx="949" cy="523.200" r="0.500" fill="#444"/>
  </g>
<!--PRODUCTS_END-->
</g>
</svg>
</body></html>
